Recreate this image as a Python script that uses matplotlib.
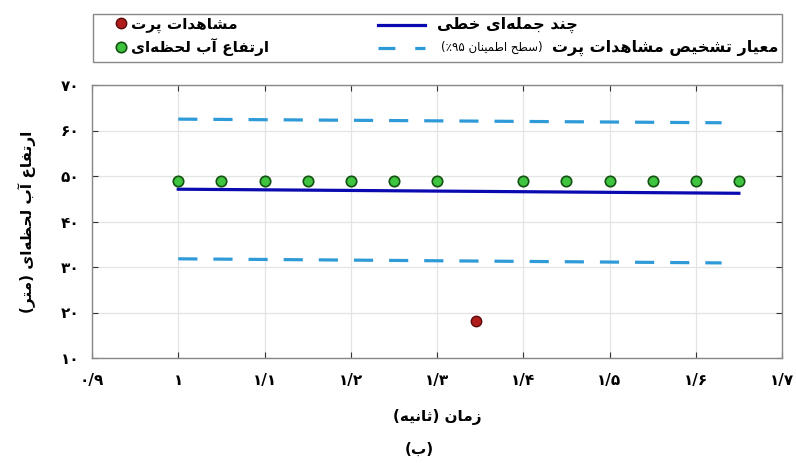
import matplotlib
matplotlib.use("Agg")
import matplotlib.pyplot as plt
from matplotlib.lines import Line2D
from matplotlib.patches import Rectangle

# ---------------- data ----------------
time_points = [1.00, 1.05, 1.10, 1.15, 1.20, 1.25, 1.30, 1.40, 1.45, 1.50, 1.55, 1.60, 1.65]
water_level = [48.8, 48.8, 48.8, 48.8, 48.8, 48.8, 48.8, 48.8, 48.8, 48.8, 48.8, 48.8, 48.8]
outlier_time = [1.345]
outlier_level = [18.2]
fit_time = [1.00, 1.65]
fit_level = [47.1, 46.2]
band_time = [1.00, 1.63]
upper_band = [62.5, 61.7]
lower_band = [31.8, 30.9]
x_ticks = [0.9, 1.0, 1.1, 1.2, 1.3, 1.4, 1.5, 1.6, 1.7]
x_tick_labels = ["۰/۹", "۱", "۱/۱", "۱/۲", "۱/۳", "۱/۴", "۱/۵", "۱/۶", "۱/۷"]
y_ticks = [10, 20, 30, 40, 50, 60, 70]
y_tick_labels = ["۱۰", "۲۰", "۳۰", "۴۰", "۵۰", "۶۰", "۷۰"]

lbl_outlier = "مشاهدات پرت"
lbl_water = "ارتفاع آب لحظه\u200cای"
lbl_fit = "چند جمله\u200cای خطی"
lbl_band = "معیار تشخیص مشاهدات پرت"
lbl_band_note = "(سطح اطمینان ۹۵٪)"
x_label = "زمان (ثانیه)"
y_label = "ارتفاع آب لحظه\u200cای (متر)"
caption = "(ب)"

# ---------------- minimal Persian shaping ----------------
FORMS = {  # isolated, final, initial, medial
    'ا': ('\uFE8D', '\uFE8E', None, None),
    'آ': ('\uFE81', '\uFE82', None, None),
    'ب': ('\uFE8F', '\uFE90', '\uFE91', '\uFE92'),
    'پ': ('\uFB56', '\uFB57', '\uFB58', '\uFB59'),
    'ت': ('\uFE95', '\uFE96', '\uFE97', '\uFE98'),
    'ث': ('\uFE99', '\uFE9A', '\uFE9B', '\uFE9C'),
    'ج': ('\uFE9D', '\uFE9E', '\uFE9F', '\uFEA0'),
    'چ': ('\uFB7A', '\uFB7B', '\uFB7C', '\uFB7D'),
    'ح': ('\uFEA1', '\uFEA2', '\uFEA3', '\uFEA4'),
    'خ': ('\uFEA5', '\uFEA6', '\uFEA7', '\uFEA8'),
    'د': ('\uFEA9', '\uFEAA', None, None),
    'ر': ('\uFEAD', '\uFEAE', None, None),
    'ز': ('\uFEAF', '\uFEB0', None, None),
    'س': ('\uFEB1', '\uFEB2', '\uFEB3', '\uFEB4'),
    'ش': ('\uFEB5', '\uFEB6', '\uFEB7', '\uFEB8'),
    'ص': ('\uFEB9', '\uFEBA', '\uFEBB', '\uFEBC'),
    'ط': ('\uFEC1', '\uFEC2', '\uFEC3', '\uFEC4'),
    'ظ': ('\uFEC5', '\uFEC6', '\uFEC7', '\uFEC8'),
    'ع': ('\uFEC9', '\uFECA', '\uFECB', '\uFECC'),
    'ف': ('\uFED1', '\uFED2', '\uFED3', '\uFED4'),
    'ل': ('\uFEDD', '\uFEDE', '\uFEDF', '\uFEE0'),
    'م': ('\uFEE1', '\uFEE2', '\uFEE3', '\uFEE4'),
    'ن': ('\uFEE5', '\uFEE6', '\uFEE7', '\uFEE8'),
    'ه': ('\uFEE9', '\uFEEA', '\uFEEB', '\uFEEC'),
    'ی': ('\uFBFC', '\uFBFD', '\uFBFE', '\uFBFF'),
}
DIGITS = set("۰۱۲۳۴۵۶۷۸۹0123456789/.")


def dual(c):
    return c in FORMS and FORMS[c][2] is not None


def shape(text):
    out = []
    n = len(text)
    for i, c in enumerate(text):
        if c not in FORMS:
            if c != '\u200c':
                out.append(c)
            continue
        prev_c = text[i - 1] if i > 0 else ''
        next_c = text[i + 1] if i < n - 1 else ''
        jp = dual(prev_c)
        jn = dual(c) and next_c in FORMS
        iso, fin, ini, med = FORMS[c]
        if jp and jn:
            out.append(med)
        elif jp:
            out.append(fin)
        elif jn:
            out.append(ini)
        else:
            out.append(iso)
    s = ''.join(out)[::-1]
    res, run = [], []
    for c in s:
        if c in DIGITS:
            run.append(c)
        else:
            if run:
                res.extend(run[::-1])
                run = []
            res.append({'(': ')', ')': '('}.get(c, c))
    if run:
        res.extend(run[::-1])
    return ''.join(res)


plt.rcParams['font.family'] = ['DejaVu Sans']

W, H = 796, 463
fig = plt.figure(figsize=(W / 100, H / 100), dpi=100)
ax = fig.add_axes([92 / W, 1 - 358 / H, (782 - 92) / W, (358 - 85) / H])

C_BAND = '#2f9ad8'
C_FIT = '#0a0ab0'
C_GREEN = '#3ec43e'
C_RED = '#b01c1c'

ax.plot(band_time, upper_band, color=C_BAND, lw=2.3, dashes=(6, 5), zorder=2)
ax.plot(band_time, lower_band, color=C_BAND, lw=2.3, dashes=(6, 5), zorder=2)
ax.plot(fit_time, fit_level, color=C_FIT, lw=2.3, zorder=3)
ax.plot(time_points, water_level, ls='none', marker='o', ms=7.5,
        mfc=C_GREEN, mec='#145214', mew=1.2, zorder=4)
ax.plot(outlier_time, outlier_level, ls='none', marker='o', ms=7.5,
        mfc=C_RED, mec='#5a0a0a', mew=1.0, zorder=4)

ax.set_xlim(0.9, 1.7)
ax.set_ylim(10, 70)
ax.set_xticks(x_ticks)
ax.set_xticklabels(x_tick_labels, fontweight='bold', fontsize=11)
ax.set_yticks(y_ticks)
ax.set_yticklabels(y_tick_labels, fontweight='bold', fontsize=11)
ax.tick_params(axis='x', pad=11)
ax.tick_params(axis='y', pad=9)
ax.tick_params(direction='in', top=True, right=True, length=4, color='#333333')
ax.grid(True, color='#e4e4e4', lw=0.9)
for sp in ax.spines.values():
    sp.set_color('#888888')
    sp.set_linewidth(1.0)

ax.set_xlabel(shape(x_label), fontweight='bold', fontsize=11, labelpad=15)
ax.set_ylabel(shape(y_label), fontweight='bold', fontsize=11, labelpad=18)

# ---------------- legend: frame + left column (legend) + right column (manual keys) ----------------
fig.patches.append(Rectangle((93 / W, 1 - 62 / H), (782 - 93) / W, (62 - 14) / H,
                             transform=fig.transFigure, fill=False,
                             edgecolor='#888888', lw=1.0, zorder=5))

ROW1, ROW2 = 25, 48  # pixel rows of the legend entries (from top)

hA = [Line2D([], [], ls='none', marker='o', ms=7.5, mfc=C_RED, mec='#5a0a0a'),
      Line2D([], [], ls='none', marker='o', ms=7.5, mfc=C_GREEN, mec='#145214', mew=1.2)]
legA = fig.legend(hA, [shape(lbl_outlier), shape(lbl_water)], loc='center left',
                  bbox_to_anchor=(112 / W, 1 - (ROW1 + ROW2) / 2 / H), frameon=False,
                  prop={'weight': 'bold', 'size': 11}, borderpad=0, borderaxespad=0,
                  handlelength=1.2, handletextpad=0.05, labelspacing=0.38)

# right column keys
fig.add_artist(Line2D([378 / W, 425 / W], [1 - ROW1 / H, 1 - ROW1 / H],
                      transform=fig.transFigure, color=C_FIT, lw=2.3))
fig.add_artist(Line2D([378 / W, 425 / W], [1 - ROW2 / H, 1 - ROW2 / H],
                      transform=fig.transFigure, color=C_BAND, lw=2.3, dashes=(5.3, 6.2)))
fig.text(437 / W, 1 - ROW1 / H, shape(lbl_fit), ha='left', va='center',
         fontsize=11.5, fontweight='bold')

fig.canvas.draw()
renderer = fig.canvas.get_renderer()
main_t = fig.text(778 / W, 1 - ROW2 / H, shape(lbl_band), ha='right', va='center',
                  fontsize=11.5, fontweight='bold')
mb = main_t.get_window_extent(renderer)
fig.text((mb.x0 - 9) / W, 1 - (ROW2 - 1) / H, shape(lbl_band_note), ha='right', va='center',
         fontsize=8.5)

fig.text(0.527, 1 - 449 / H, shape(caption), ha='center', va='center',
         fontsize=11, fontweight='bold')

fig.savefig('out.png', dpi=100)
